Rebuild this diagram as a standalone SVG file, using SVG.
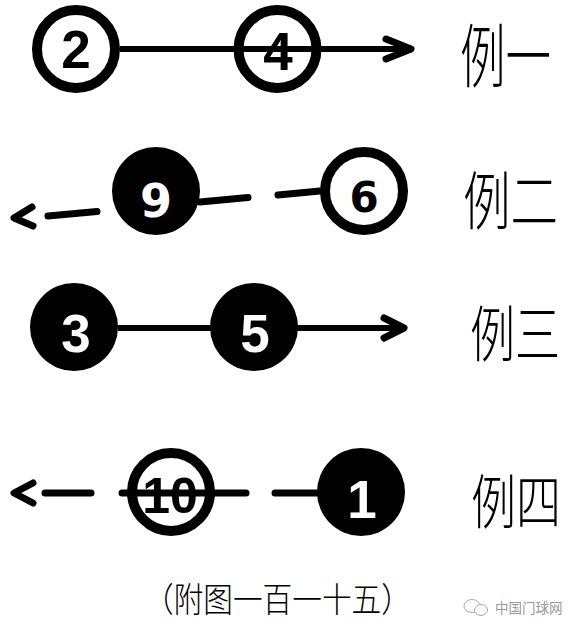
<svg xmlns="http://www.w3.org/2000/svg" width="583" height="638" viewBox="0 0 583 638">
<style>
.ring{fill:none;stroke:#000;stroke-width:10}
.disc{fill:#000}
.ln{stroke:#000;stroke-width:6;fill:none}
.dash{stroke:#000;stroke-width:7;fill:none;stroke-linecap:round}
.chev{stroke:#000;stroke-width:7;fill:none;stroke-linecap:round;stroke-linejoin:round}
.num{font-family:"Liberation Sans",Arial,sans-serif;font-weight:bold;text-anchor:middle}
.rnd{font-family:"DejaVu Sans",sans-serif;font-weight:bold;text-anchor:middle}
.lab{font-family:"Noto Sans CJK SC",sans-serif;font-weight:300;fill:#000}
</style>
<rect width="583" height="638" fill="#fff"/>
<g id="connectors">
  <line class="ln" x1="120" y1="49" x2="410" y2="49"/>
  <polyline class="chev" points="386,39 411,49 386,59"/>
  <line class="dash" x1="48" y1="216" x2="97" y2="211.5"/>
  <line class="dash" x1="200" y1="202" x2="248" y2="197.6"/>
  <line class="dash" x1="278" y1="194.9" x2="320" y2="191"/>
  <polyline class="chev" points="32,207 14,218 33,226"/>
  <line class="ln" x1="118" y1="328" x2="403" y2="328"/>
  <polyline class="chev" points="384,318 404,328 384,338"/>
  <line class="dash" x1="45" y1="493" x2="91" y2="493"/>
  <line class="dash" x1="122" y1="493" x2="246" y2="493"/>
  <line class="dash" x1="275" y1="493" x2="318" y2="493"/>
  <polyline class="chev" points="33,483 14,493 33,503"/>
</g>
<g id="node-2"><circle class="ring" cx="76" cy="49" r="39"/><text class="num" x="76" y="68" font-size="53">2</text></g>
<g id="node-4"><circle class="ring" cx="277.5" cy="49" r="39"/><text class="num" x="278" y="70" font-size="53">4</text></g>
<g id="node-9"><circle class="disc" cx="156" cy="191" r="44"/><text class="rnd" x="156" y="217" font-size="46" fill="#fff">9</text></g>
<g id="node-6"><circle class="ring" cx="364" cy="191" r="39"/><text class="rnd" x="364" y="212" font-size="42">6</text></g>
<g id="node-3"><circle class="disc" cx="74" cy="327" r="44"/><text class="num" x="76" y="352" font-size="53" fill="#fff">3</text></g>
<g id="node-5"><circle class="disc" cx="254" cy="327" r="44"/><text class="num" x="255" y="352" font-size="53" fill="#fff">5</text></g>
<g id="node-10"><circle class="ring" cx="171" cy="492" r="39"/><text class="num" x="170" y="513" font-size="50">10</text></g>
<g id="node-1"><circle class="disc" cx="361" cy="492" r="44"/><text class="num" x="362" y="518" font-size="53" fill="#fff">1</text></g>
<g id="labels">
  <text class="lab" transform="translate(460,82) scale(0.659,1)" x="0" y="0" font-size="69">例一</text>
  <text class="lab" transform="translate(463,224) scale(0.754,1)" x="0" y="0" font-size="63">例二</text>
  <text class="lab" transform="translate(470,357) scale(0.738,1)" x="0" y="0" font-size="61">例三</text>
  <text class="lab" transform="translate(471,524) scale(0.763,1)" x="0" y="0" font-size="59">例四</text>
  <text class="lab" transform="translate(144,612) scale(0.8725,1)" x="0" y="0" font-size="34">（附图一百一十五）</text>
</g>
<g id="watermark">
  <ellipse cx="472" cy="606" rx="8" ry="6.5" fill="#fff" stroke="#aaa" stroke-width="1"/>
  <ellipse cx="481" cy="610" rx="6.5" ry="5.5" fill="#fff" stroke="#aaa" stroke-width="1"/>
  <text x="495" y="613" font-family="Noto Sans CJK SC,sans-serif" font-size="13.5" fill="#999">中国门球网</text>
</g>
</svg>
